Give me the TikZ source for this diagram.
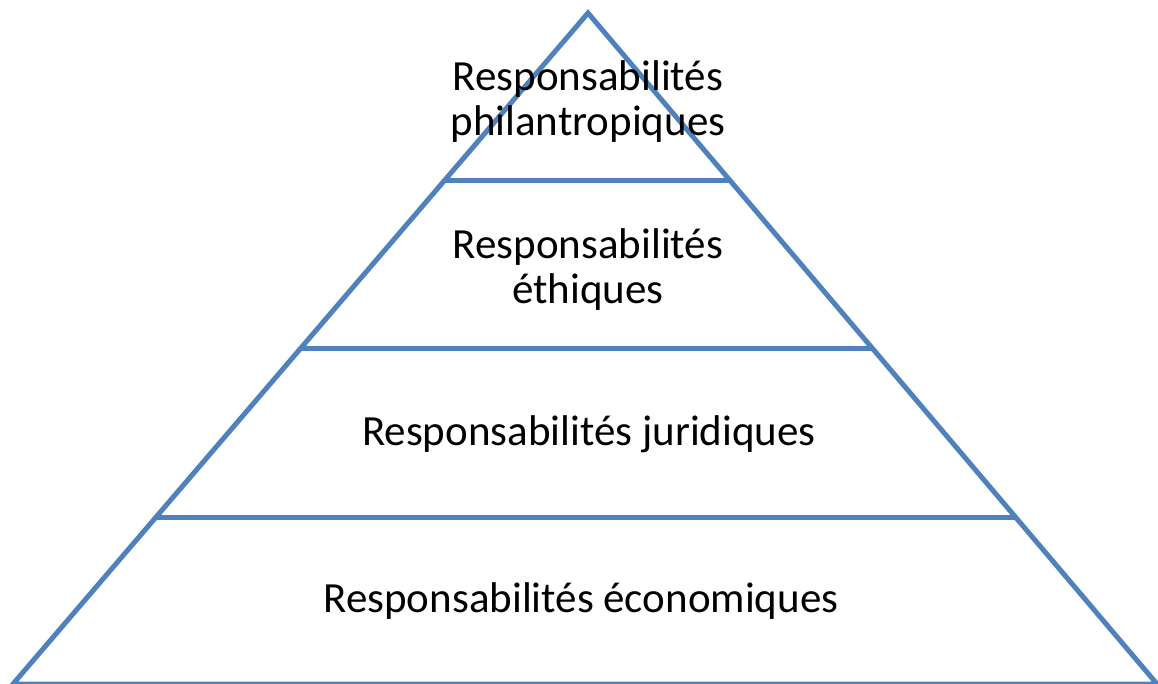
\documentclass[tikz,border=0pt]{standalone}
\usepackage{fontspec}
\setmainfont{Carlito}
\definecolor{pyrblue}{HTML}{4F81BD}
\tikzset{
  edge/.style={draw=pyrblue, line width=5pt, line join=miter},
  lbl/.style={anchor=base, inner sep=0pt, text=black, font=\fontsize{43}{52}\selectfont}
}
\begin{document}
\begin{tikzpicture}[x=1pt,y=-1pt]
\useasboundingbox (0,0) rectangle (1158,684);
\coordinate (apex) at (588,13);
\coordinate (bl) at (13,684);
\coordinate (br) at (1157,684);
\coordinate (l1) at (445,181);
\coordinate (r1) at (730,181);
\coordinate (l2) at (301,348);
\coordinate (r2) at (873,348);
\coordinate (l3) at (157,517);
\coordinate (r3) at (1016,517);
\draw[edge] (bl) -- (apex) -- (br) -- cycle;
\draw[edge] (l1) -- (r1);
\draw[edge] (l2) -- (r2);
\draw[edge] (l3) -- (r3);
\node[lbl] (t1a) at (588,91) {Responsabilités};
\node[lbl] (t1b) at (588,136) {philantropiques};
\node[lbl] (t2a) at (588,259) {Responsabilités};
\node[lbl] (t2b) at (588,304) {éthiques};
\node[lbl] (t3) at (589,445) {Responsabilités juridiques};
\node[lbl] (t4) at (581,612) {Responsabilités économiques};
\end{tikzpicture}
\end{document}
